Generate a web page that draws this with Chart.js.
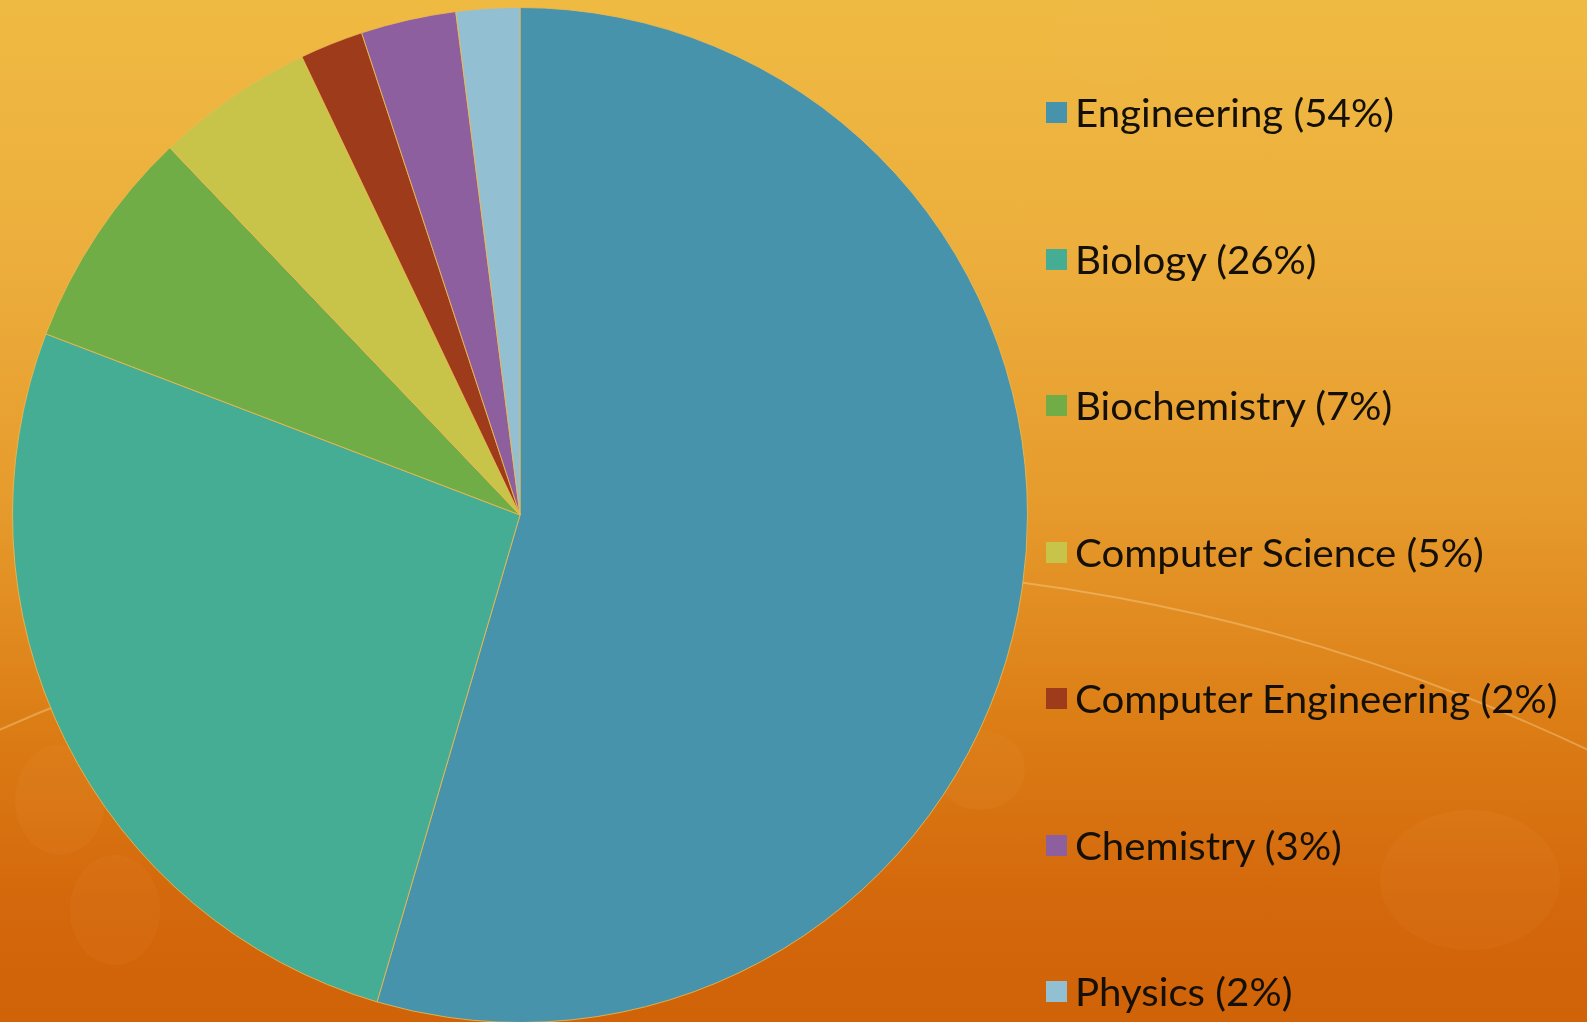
<!DOCTYPE html>
<html>
<head>
<meta charset="utf-8">
<script src="https://cdn.jsdelivr.net/npm/chart.js@4"></script>
<style>
  html, body { margin: 0; padding: 0; width: 1587px; height: 1022px; overflow: hidden; }
  body {
    position: relative;
    background: linear-gradient(180deg, #EFBA42 0%, #ECAE3C 25%, #E69A2C 50%, #DC7E16 70%, #D4680C 88%, #D06207 100%);
  }
  #deco { position: absolute; left: 0; top: 0; }
  #c { position: absolute; left: 0; top: 0; }
  #legend { position: absolute; left: 0; top: 0; width: 1587px; height: 1022px; pointer-events: none; }
  .item { position: absolute; left: 1046px; height: 22px; }
  .sw { position: absolute; left: 0; top: 0; width: 21px; height: 21px; }
  .tx { position: absolute; left: 29px; top: -14px; white-space: nowrap; font-family: Lato, "Open Sans", sans-serif;
        font-weight: 400; font-size: 38px; line-height: 48px; color: #141008; transform-origin: 0 50%; display: inline-block; }
</style>
</head>
<body>
<svg id="deco" width="1587" height="1022">
  <circle cx="772" cy="2468" r="1902" fill="none" stroke="rgba(255,225,170,0.35)" stroke-width="2"/>
  <g fill="rgba(255,200,120,0.05)">
    <ellipse cx="60" cy="800" rx="45" ry="55"/>
    <ellipse cx="115" cy="910" rx="45" ry="55"/>
    <ellipse cx="1110" cy="40" rx="60" ry="45"/>
    <ellipse cx="1470" cy="880" rx="90" ry="70"/>
    <ellipse cx="980" cy="770" rx="45" ry="40"/>
  </g>
</svg>
<canvas id="c" width="1040" height="1040" style="width:1040px;height:1040px"></canvas>
<div id="legend"></div>
<script>
const categories = ["Engineering", "Biology", "Biochemistry", "Computer Science", "Computer Engineering", "Chemistry", "Physics"];
const shares = [54, 26, 7, 5, 2, 3, 2];
const colors = ["#4793AC", "#46AD95", "#70AD47", "#C8C44A", "#9E3B1B", "#8E5F9E", "#93BFD2"];
const legendLabels = categories.map((c, i) => c + " (" + shares[i] + "%)");

const chart = new Chart(document.getElementById("c"), {
  type: "pie",
  data: {
    labels: categories,
    datasets: [{
      data: shares,
      backgroundColor: colors,
      borderColor: "rgba(236,184,80,0.85)",
      borderWidth: 1
    }]
  },
  options: {
    responsive: false,
    animation: false,
    devicePixelRatio: 1,
    layout: { padding: { left: 12, top: 7, right: 12, bottom: 17 } },
    plugins: {
      legend: { display: false },
      tooltip: { enabled: false }
    }
  }
});

// HTML legend built from the same arrays
const lg = document.getElementById("legend");
const targetWidths = [315, null, null, null, 493, 260, null];
const spans = [];
legendLabels.forEach((t, i) => {
  const it = document.createElement("div");
  it.className = "item";
  it.style.top = (102 + i * 146.5) + "px";
  const sw = document.createElement("div");
  sw.className = "sw";
  sw.style.background = colors[i];
  const tx = document.createElement("span");
  tx.className = "tx";
  tx.textContent = t;
  it.appendChild(sw); it.appendChild(tx);
  lg.appendChild(it);
  spans.push(tx);
});
function fit() {
  let m = 0, tsum = 0;
  spans.forEach((s, i) => { if (targetWidths[i]) { m += s.offsetWidth; tsum += targetWidths[i]; } });
  const k = tsum / m;
  spans.forEach(s => s.style.transform = "scaleX(" + k.toFixed(4) + ")");
}
fit();
if (document.fonts && document.fonts.ready) { document.fonts.ready.then(fit); }
</script>
</body>
</html>
